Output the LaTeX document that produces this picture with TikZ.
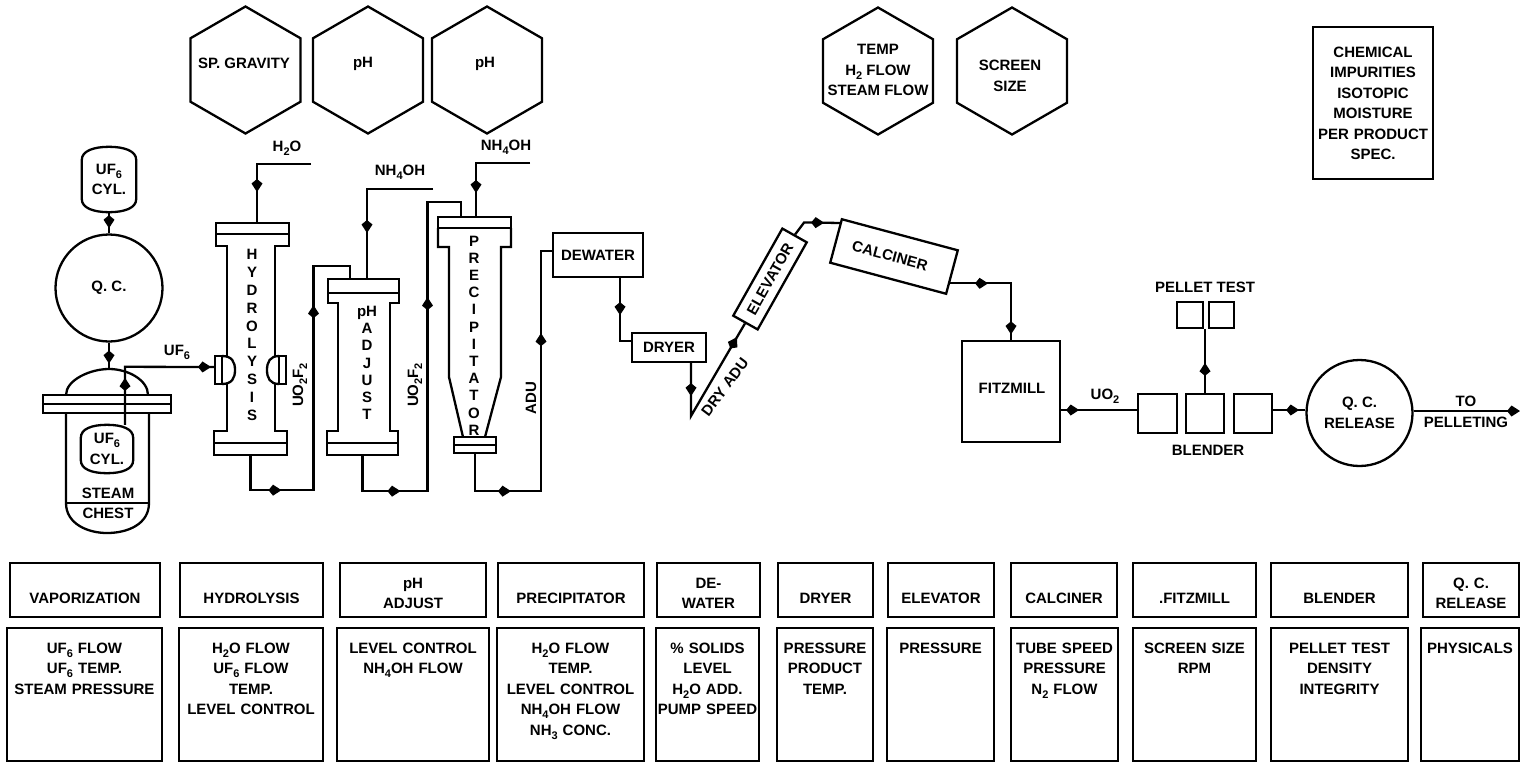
\documentclass[tikz,border=0pt]{standalone}
\usepackage{fontspec}
\setmainfont{Liberation Sans}
\usepackage{tikz}
\usetikzlibrary{arrows.meta,calc,decorations.markings,shapes.geometric}
\tikzset{flowtip/.tip={Kite[length=13pt,width=11pt,inset=4.5pt]}}
\newcommand{\subs}[1]{\raisebox{-4pt}{\fontsize{11}{11}\selectfont #1}}
\newcommand{\tankline}[1]{\draw[ln] ($(#1.north west)+(0,13)$) .. controls +(0,-9) and +(-15,0) .. (#1.north) .. controls +(15,0) and +(0,-9) .. ($(#1.north east)+(0,13)$) -- ($(#1.south east)+(0,-13)$) .. controls +(0,9) and +(15,0) .. (#1.south) .. controls +(-15,0) and +(0,9) .. ($(#1.south west)+(0,-13)$) -- cycle;}

\begin{document}
\begin{tikzpicture}[x=1pt, y=-1pt,
  font=\fontsize{15}{20.5}\selectfont\bfseries,
  ln/.style={line width=2.3pt},
  mid/.style={postaction={decorate, decoration={markings, mark=at position #1 with {\arrow{flowtip}}}}},
  txt/.style={inner sep=0pt, align=center},
  stacktxt/.style={inner sep=0pt, align=center, font=\fontsize{15}{#1}\selectfont\bfseries},
  box/.style={draw, ln, inner sep=0pt, align=center},
  flange/.style={draw, ln, fill=white, inner sep=0pt},
  gauge/.style={draw, ln, regular polygon, regular polygon sides=6, shape border rotate=30, minimum size=127pt, inner sep=0pt},
  hdr/.style={box, text height=40pt, text depth=14pt},
  hdrtwo/.style={hdr, text height=25pt, text depth=29pt},
  ctrl/.style={box, text height=25pt, text depth=108pt}]
  \useasboundingbox (0,0) rectangle (1520,761);
  % instruments along the top
  \node[gauge] (hexgrav) at (245.5,70) {};
  \node[gauge] (hexpha) at (368,70) {};
  \node[gauge] (hexphb) at (487,70) {};
  \node[gauge] (hextemp) at (878,71) {};
  \node[gauge] (hexscr) at (1012,71) {};
  \node[txt] (gravtxt) at (244,63) {SP. GRAVITY};
  \node[txt] (phatxt) at (363,64) {pH};
  \node[txt] (phbtxt) at (485,64) {pH};
  \node[txt] (temptxt) at (878,70) {TEMP\\H\subs{2} FLOW\\STEAM FLOW};
  \node[txt] (scrtxt) at (1010,76) {SCREEN\\SIZE};
  \node[box, text width=120pt, text height=30pt, text depth=122pt] (chem) at (1373,26.0) [anchor=north] {CHEMICAL\\IMPURITIES\\ISOTOPIC\\MOISTURE\\PER PRODUCT\\SPEC.};
  % vaporization
  \node[txt, minimum width=54pt, minimum height=65pt] (cyltop) at (109,179.5) {UF\subs{6}\\CYL.};
  \tankline{cyltop}
  \node[box, circle, minimum size=107pt] (qc) at (109,288) {Q. C.};
  \coordinate (dometop) at (109,369);
  \draw[ln] (66,395) .. controls (66,380) and (90,369) .. (dometop) .. controls (128,369) and (148,380) .. (148,395);
  \node[flange, minimum width=128pt, minimum height=18pt] (vapfl) at (107,404) {};
  \draw[ln] (vapfl.west) -- (vapfl.east);
  \draw[ln] (66,413) -- (66,503) .. controls (66,524) and (88,533) .. (107,533) .. controls (128,533) and (149,524) .. (149,503) -- (149,413);
  \draw[ln] (66,503) -- (149,503);
  \node[txt, minimum width=52pt, minimum height=48pt] (cylin) at (107,449) {UF\subs{6}\\CYL.};
  \tankline{cylin}
  \node[txt] (steam) at (108,493) {STEAM};
  \node[txt] (chest) at (108,513) {CHEST};
  % hydrolysis
  \node[flange, minimum width=73pt, minimum height=11pt] (hydtop) at (252.5,228.5) {};
  \node[flange, minimum width=73pt, minimum height=12pt] (hydbot) at (250.5,449) {};
  \draw[ln] (216,234) -- (216,246) -- (227,246) -- (227,431) -- (214,431) -- (214,443);
  \draw[ln] (289,234) -- (289,246) -- (275,246) -- (275,431) -- (287,431) -- (287,443);
  \draw[ln, fill=white] (222,356) .. controls (232,356) and (235,362) .. (235,370) .. controls (235,378) and (232,384) .. (222,384);
  \draw[ln, fill=white] (279,356) .. controls (270,356) and (267,362) .. (267,370) .. controls (267,378) and (270,384) .. (279,384);
  \node[flange, minimum width=7pt, minimum height=28pt] (hydinl) at (218.5,370) {};
  \node[flange, minimum width=7pt, minimum height=28pt] (hydoutl) at (282.5,370) {};
  \node[stacktxt=17.8pt] (hydtxt) at (252,335) {H\\Y\\D\\R\\O\\L\\Y\\S\\I\\S};
  % pH adjust
  \node[flange, minimum width=71pt, minimum height=14pt] (phtop) at (363.5,286) {};
  \node[flange, minimum width=71pt, minimum height=12pt] (phbot) at (362.5,449) {};
  \draw[ln] (328,293) -- (328,303) -- (338,303) -- (338,431) -- (327,431) -- (327,443);
  \draw[ln] (399,293) -- (399,303) -- (390,303) -- (390,431) -- (398,431) -- (398,443);
  \node[stacktxt=17.2pt] (phtxt) at (367,363) {pH\\A\\D\\J\\U\\S\\T};
  % precipitator
  \node[flange, minimum width=73pt, minimum height=11pt] (prectop) at (474.5,222.5) {};
  \node[flange, minimum width=42pt, minimum height=16pt] (precbot) at (475,445) {};
  \draw[ln] (precbot.west) -- (precbot.east);
  \draw[ln] (438,228) -- (438,247) -- (449,247) -- (449,377) -- (463,437);
  \draw[ln] (511,228) -- (511,247) -- (501,247) -- (501,377) -- (485,437);
  \node[stacktxt=17.2pt] (prectxt) at (474,335.5) {P\\R\\E\\C\\I\\P\\I\\T\\A\\T\\O\\R};
  % dewater to fitzmill
  \node[box, minimum width=90pt, minimum height=44pt] (dewater) at (598,255) {DEWATER};
  \node[box, minimum width=74pt, minimum height=29pt] (dryer) at (669,347.5) {DRYER};
  \node[box, minimum width=100pt, minimum height=28pt, rotate=60.6] (elev) at (770,279) {ELEVATOR};
  \node[box, minimum width=120pt, minimum height=45pt, rotate=-15] (calc) at (894,256.5) {};
  \node[txt, rotate=-15] (calctxt) at (890,256) {CALCINER};
  \node[box, minimum width=98pt, minimum height=101pt] (fitz) at (1011,391.5) {};
  \node[txt] (fitztxt) at (1012,388) {FITZMILL};
  \node[box, minimum width=39pt, minimum height=39pt] (blenda) at (1157.5,413.5) {};
  \node[box, minimum width=38pt, minimum height=39pt] (blendb) at (1205,413.5) {};
  \node[box, minimum width=38pt, minimum height=39pt] (blendc) at (1253,413.5) {};
  \node[box, minimum width=26pt, minimum height=26pt] (pella) at (1190,315) {};
  \node[box, minimum width=25pt, minimum height=26pt] (pellb) at (1221.5,315) {};
  \node[box, circle, minimum size=106pt] (qcrel) at (1359.5,413) {Q. C.\\RELEASE};
  % free ends and levels
  \coordinate (waterin) at (311,164);
  \coordinate (ammoa) at (433,189);
  \coordinate (ammob) at (530,163);
  \coordinate (bend) at (691,416);
  \coordinate (uoline) at (1100,410);
  \coordinate (pellout) at (1520,411);
  % connectors
  \draw[ln, mid=16pt] (cyltop) -- (qc);
  \draw[ln, mid=21pt] (qc) -- (dometop);
  \draw[ln, mid=47pt, mid=144pt] ($(cylin.north)+(18,0)$) -- ++(0,-58) -- (hydinl.west |- 0,367);
  \draw[ln, mid=82pt] (waterin) -| ($(hydtop.north)+(4.5,0)$);
  \draw[ln, mid=65pt, mid=282pt] (hydbot.south) -- ++(0,34) -- ++(63,0) |- ($(phtop.north)+(-13.5,-12)$) -- ($(phtop.north)+(-13.5,0)$);
  \draw[ln, mid=110pt] (ammoa) -| ($(phtop.north)+(3.5,0)$);
  \draw[ln, mid=73pt, mid=294pt] (phbot.south) -- ++(0,35) -- ++(65,0) |- ($(prectop.north)+(-13.5,-14)$) -- ($(prectop.north)+(-13.5,0)$);
  \draw[ln, mid=84pt] (ammob) -| ($(prectop.north)+(1.5,0)$);
  \draw[ln, mid=73pt, mid=261pt] (precbot.south) -- ++(0,37) -- ++(66,0) |- ($(dewater.west)+(0,-4)$);
  \draw[ln, mid=37pt] ($(dewater.south)+(22,0)$) |- ($(dryer.west)+(0,-6.5)$);
  \draw[ln, mid=33pt, mid=144pt] ($(dryer.south)+(22,0)$) -- (bend) -- (elev.west);
  \draw[ln, mid=35pt] (elev.east) -- ++(9,-12) -- (calc.north west |- 0,223);
  \draw[ln, mid=38pt, mid=112pt] ($(calc.east)+(-3,11)$) -| (fitz.north);
  \draw[ln, mid=18pt] (fitz.east |- uoline) -- (blenda.west |- uoline);
  \draw[ln, mid=30pt] (blendb.north) -- (blendb.north |- pella.south);
  \draw[ln, mid=26pt] (blendc.east |- uoline) -- (qcrel.west |- uoline);
  \draw[ln, -flowtip] (qcrel.east |- pellout) -- (pellout);
  % stream labels
  \node[txt] (uftxt) at (177,352) {UF\subs{6}};
  \node[txt] (watertxt) at (287,148) {H\subs{2}O};
  \node[txt] (ammoatxt) at (400,172) {NH\subs{4}OH};
  \node[txt] (ammobtxt) at (506,147) {NH\subs{4}OH};
  \node[txt, rotate=90] (uoatxt) at (300,385) {UO\subs{2}F\subs{2}};
  \node[txt, rotate=90] (uobtxt) at (415,385) {UO\subs{2}F\subs{2}};
  \node[txt, rotate=90] (adutxt) at (531,398) {ADU};
  \node[txt, rotate=53] (dryadu) at (725,387) {DRY ADU};
  \node[txt] (uotxt) at (1105,396) {UO\subs{2}};
  \node[txt] (pelltxt) at (1205,287) {PELLET TEST};
  \node[txt] (blendtxt) at (1208,450) {BLENDER};
  \node[txt] (totxt) at (1466,401) {TO};
  \node[txt] (pelletxt) at (1466,422) {PELLETING};
  % table, header row
  \node[hdr, text width=150pt, anchor=north] (hvap) at (85,562) {VAPORIZATION};
  \node[hdr, text width=143pt, anchor=north] (hhyd) at (251.5,562) {HYDROLYSIS};
  \node[hdrtwo, text width=146pt, anchor=north] (hpha) at (413,562) {pH\\ADJUST};
  \node[hdr, text width=146pt, anchor=north] (hpre) at (571,562) {PRECIPITATOR};
  \node[hdrtwo, text width=103pt, anchor=north] (hdew) at (708.5,562) {DE-\\WATER};
  \node[hdr, text width=95pt, anchor=north] (hdry) at (825.5,562) {DRYER};
  \node[hdr, text width=106pt, anchor=north] (hele) at (941,562) {ELEVATOR};
  \node[hdr, text width=106pt, anchor=north] (hcal) at (1064,562) {CALCINER};
  \node[hdr, text width=123pt, anchor=north] (hfit) at (1194.5,562) {.FITZMILL};
  \node[hdr, text width=137pt, anchor=north] (hble) at (1339.5,562) {BLENDER};
  \node[hdrtwo, text width=96pt, anchor=north] (hqcr) at (1471,562) {Q. C.\\RELEASE};
  % table, control row
  \node[ctrl, text width=155pt, anchor=north] (cvap) at (84.5,627) {UF\subs{6} FLOW\\UF\subs{6} TEMP.\\STEAM PRESSURE};
  \node[ctrl, text width=144pt, anchor=north] (chyd) at (251,627) {H\subs{2}O FLOW\\UF\subs{6} FLOW\\TEMP.\\LEVEL CONTROL};
  \node[ctrl, text width=152pt, anchor=north] (cpha) at (413,627) {LEVEL CONTROL\\NH\subs{4}OH FLOW};
  \node[ctrl, text width=147pt, anchor=north] (cpre) at (570.5,627) {H\subs{2}O FLOW\\TEMP.\\LEVEL CONTROL\\NH\subs{4}OH FLOW\\NH\subs{3} CONC.};
  \node[ctrl, text width=103pt, anchor=north] (cdew) at (707.5,627) {\% SOLIDS\\LEVEL\\H\subs{2}O ADD.\\PUMP SPEED};
  \node[ctrl, text width=96pt, anchor=north] (cdry) at (825,627) {PRESSURE\\PRODUCT\\TEMP.};
  \node[ctrl, text width=107pt, anchor=north] (cele) at (940.5,627) {PRESSURE};
  \node[ctrl, text width=107pt, anchor=north] (ccal) at (1064.5,627) {TUBE SPEED\\PRESSURE\\N\subs{2} FLOW};
  \node[ctrl, text width=123pt, anchor=north] (cfit) at (1194.5,627) {SCREEN SIZE\\RPM};
  \node[ctrl, text width=137pt, anchor=north] (cble) at (1339.5,627) {PELLET TEST\\DENSITY\\INTEGRITY};
  \node[ctrl, text width=98pt, anchor=north] (cqcr) at (1470,627) {PHYSICALS};
\end{tikzpicture}
\end{document}
